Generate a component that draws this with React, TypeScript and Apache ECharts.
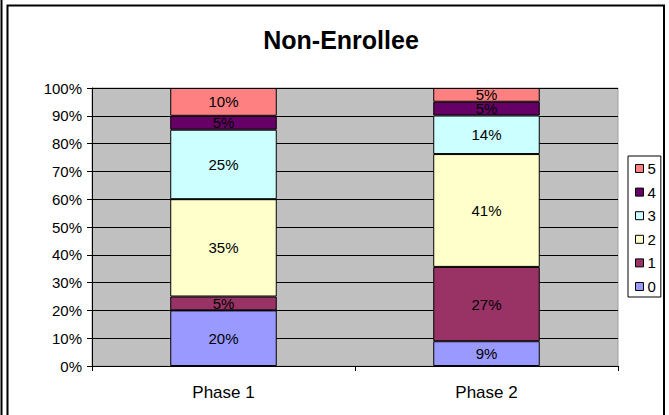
import React, { useEffect, useRef } from "react";
import * as echarts from "echarts";

const categories = ["Phase 1", "Phase 2"];
const seriesNames = ["0", "1", "2", "3", "4", "5"];
const seriesColors = ["#9999ff", "#993366", "#ffffcc", "#ccffff", "#660066", "#ff8080"];
const phase1 = [20, 5, 35, 25, 5, 10];
const phase2 = [9, 27, 41, 14, 5, 5];
const yTicks = [0, 10, 20, 30, 40, 50, 60, 70, 80, 90, 100];

export default function App() {
  const ref = useRef<HTMLDivElement>(null);
  useEffect(() => {
    if (!ref.current) return;
    const chart = echarts.init(ref.current, undefined, { renderer: "svg" });
    const columns = [phase1, phase2];
    const totals = columns.map((c) => c.reduce((a, b) => a + b, 0));
    const series = seriesNames.map((name, i) => ({
      name,
      type: "bar",
      stack: "total",
      barWidth: "40.5%",
      itemStyle: { color: seriesColors[i], borderColor: "#000", borderWidth: 1 },
      label: {
        show: true,
        position: "inside",
        color: "#000",
        fontFamily: "Liberation Sans, Arial, sans-serif",
        fontSize: 15,
        formatter: (p: any) => columns[p.dataIndex][i] + "%",
      },
      data: columns.map((c, ci) => (c[i] / totals[ci]) * 100),
    }));
    chart.setOption({
      animation: false,
      backgroundColor: "#fff",
      title: {
        text: "Non-Enrollee",
        left: 336,
        textAlign: "center",
        top: 22,
        textStyle: { fontFamily: "Liberation Sans, Arial, sans-serif", fontSize: 25, fontWeight: "bold", color: "#000" },
      },
      legend: {
        orient: "vertical",
        left: 628,
        top: 156,
        data: [...seriesNames].reverse(),
        itemWidth: 8,
        itemHeight: 8,
        itemGap: 8.6,
        padding: [5, 5, 3, 7],
        backgroundColor: "#fff",
        borderColor: "#000",
        borderWidth: 1,
        borderRadius: 0,
        icon: "rect",
        itemStyle: { borderColor: "#000", borderWidth: 1 },
        textStyle: { fontFamily: "Liberation Sans, Arial, sans-serif", fontSize: 15, color: "#000", padding: [0, 0, 0, -1] },
      },
      grid: {
        left: 92,
        right: 51,
        top: 88,
        bottom: 49,
        show: true,
        backgroundColor: "#c0c0c0",
        borderColor: "#a0a0a0",
        borderWidth: 1,
      },
      xAxis: {
        type: "category",
        data: categories,
        axisLine: { lineStyle: { color: "#000", width: 1 } },
        axisTick: { show: true, length: 5, lineStyle: { color: "#000" } },
        axisLabel: { color: "#000", fontSize: 17, margin: 18, fontFamily: "Liberation Sans, Arial, sans-serif" },
      },
      yAxis: {
        type: "value",
        min: yTicks[0],
        max: yTicks[yTicks.length - 1],
        interval: yTicks[1] - yTicks[0],
        axisLine: { show: true, lineStyle: { color: "#000", width: 1 } },
        axisTick: { show: true, length: 5, lineStyle: { color: "#000" } },
        splitLine: { show: true, lineStyle: { color: "#000", width: 1 } },
        axisLabel: {
          color: "#000",
          fontSize: 15,
          margin: 10,
          fontFamily: "Liberation Sans, Arial, sans-serif",
          formatter: "{value}%",
        },
      },
      graphic: [
        { type: "line", shape: { x1: 1.5, y1: 0, x2: 1.5, y2: 415 }, style: { stroke: "#000", lineWidth: 2 } },
        {
          type: "rect",
          shape: { x: 7.5, y: 5.5, width: 656.5, height: 420 },
          style: { fill: "none", stroke: "#000", lineWidth: 2 },
          z: 100,
        },
      ],
      series,
    } as any);
    return () => chart.dispose();
  }, []);
  return (
    <div
      ref={ref}
      style={{ position: "fixed", left: 0, top: 0, width: 669, height: 415 }}
    />
  );
}
